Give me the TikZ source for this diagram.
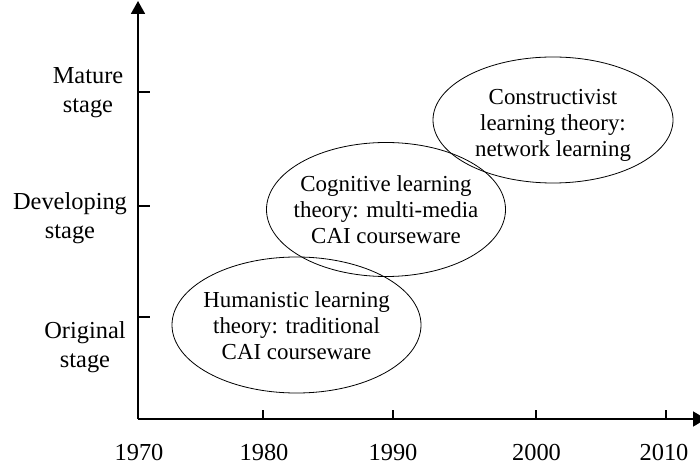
\documentclass[tikz,border=0pt]{standalone}
\usepackage{fontspec}
\setmainfont{Liberation Serif}
\usetikzlibrary{shapes.geometric,arrows.meta}
\begin{document}
\begin{tikzpicture}[x=1bp,y=-1bp,
  axis/.style={line width=1.8bp},
  tickmark/.style={line width=1.3bp},
  bubble/.style={draw,ellipse,line width=0.8bp,inner sep=0pt},
  btext/.style={align=center,font=\fontsize{23}{26}\selectfont,inner sep=0pt},
  stagelbl/.style={align=center,font=\fontsize{24.5}{29}\selectfont,inner sep=0pt},
  yearlbl/.style={anchor=base,font=\fontsize{24.5}{29}\selectfont,inner sep=0pt}]
\useasboundingbox (0,0) rectangle (700,464);
% axes
\coordinate (O) at (138,419);
\coordinate (ytop) at (138,1);
\coordinate (xend) at (706,419);
\draw[axis,-{Triangle[length=13bp,width=14bp]}] (O) -- (ytop);
\draw[axis,-{Triangle[length=13bp,width=15bp]}] (O) -- (xend);
% y ticks
\foreach \yy in {92,206,317} \draw[tickmark] (138,\yy) -- (150,\yy);
% x ticks
\foreach \xx in {263,393,536,666} \draw[tickmark] (\xx,419) -- (\xx,410);
% stage labels
\node[stagelbl] (mature) at (88,92.3) {Mature\\stage};
\node[stagelbl] (developing) at (70,218.5) {Developing\\stage};
\node[stagelbl] (original) at (85,346.8) {Original\\stage};
% year labels
\node[yearlbl] (y1970) at (139,460) {1970};
\node[yearlbl] (y1980) at (264,460) {1980};
\node[yearlbl] (y1990) at (393,460) {1990};
\node[yearlbl] (y2000) at (536.5,460) {2000};
\node[yearlbl] (y2010) at (664,460) {2010};
% ellipses
\node[bubble,minimum width=249bp,minimum height=136bp] (e1) at (296.5,325) {};
\node[btext] (t1) at (296.5,326) {Humanistic learning\\theory: traditional\\CAI courseware};
\node[bubble,minimum width=239bp,minimum height=134bp] (e2) at (386,209.5) {};
\node[btext] (t2) at (386,210) {Cognitive learning\\theory: multi-media\\CAI courseware};
\node[bubble,minimum width=240bp,minimum height=126bp] (e3) at (553,120) {};
\node[btext] (t3) at (553,125) {Constructivist\\learning theory:\\network learning};
\end{tikzpicture}
\end{document}
